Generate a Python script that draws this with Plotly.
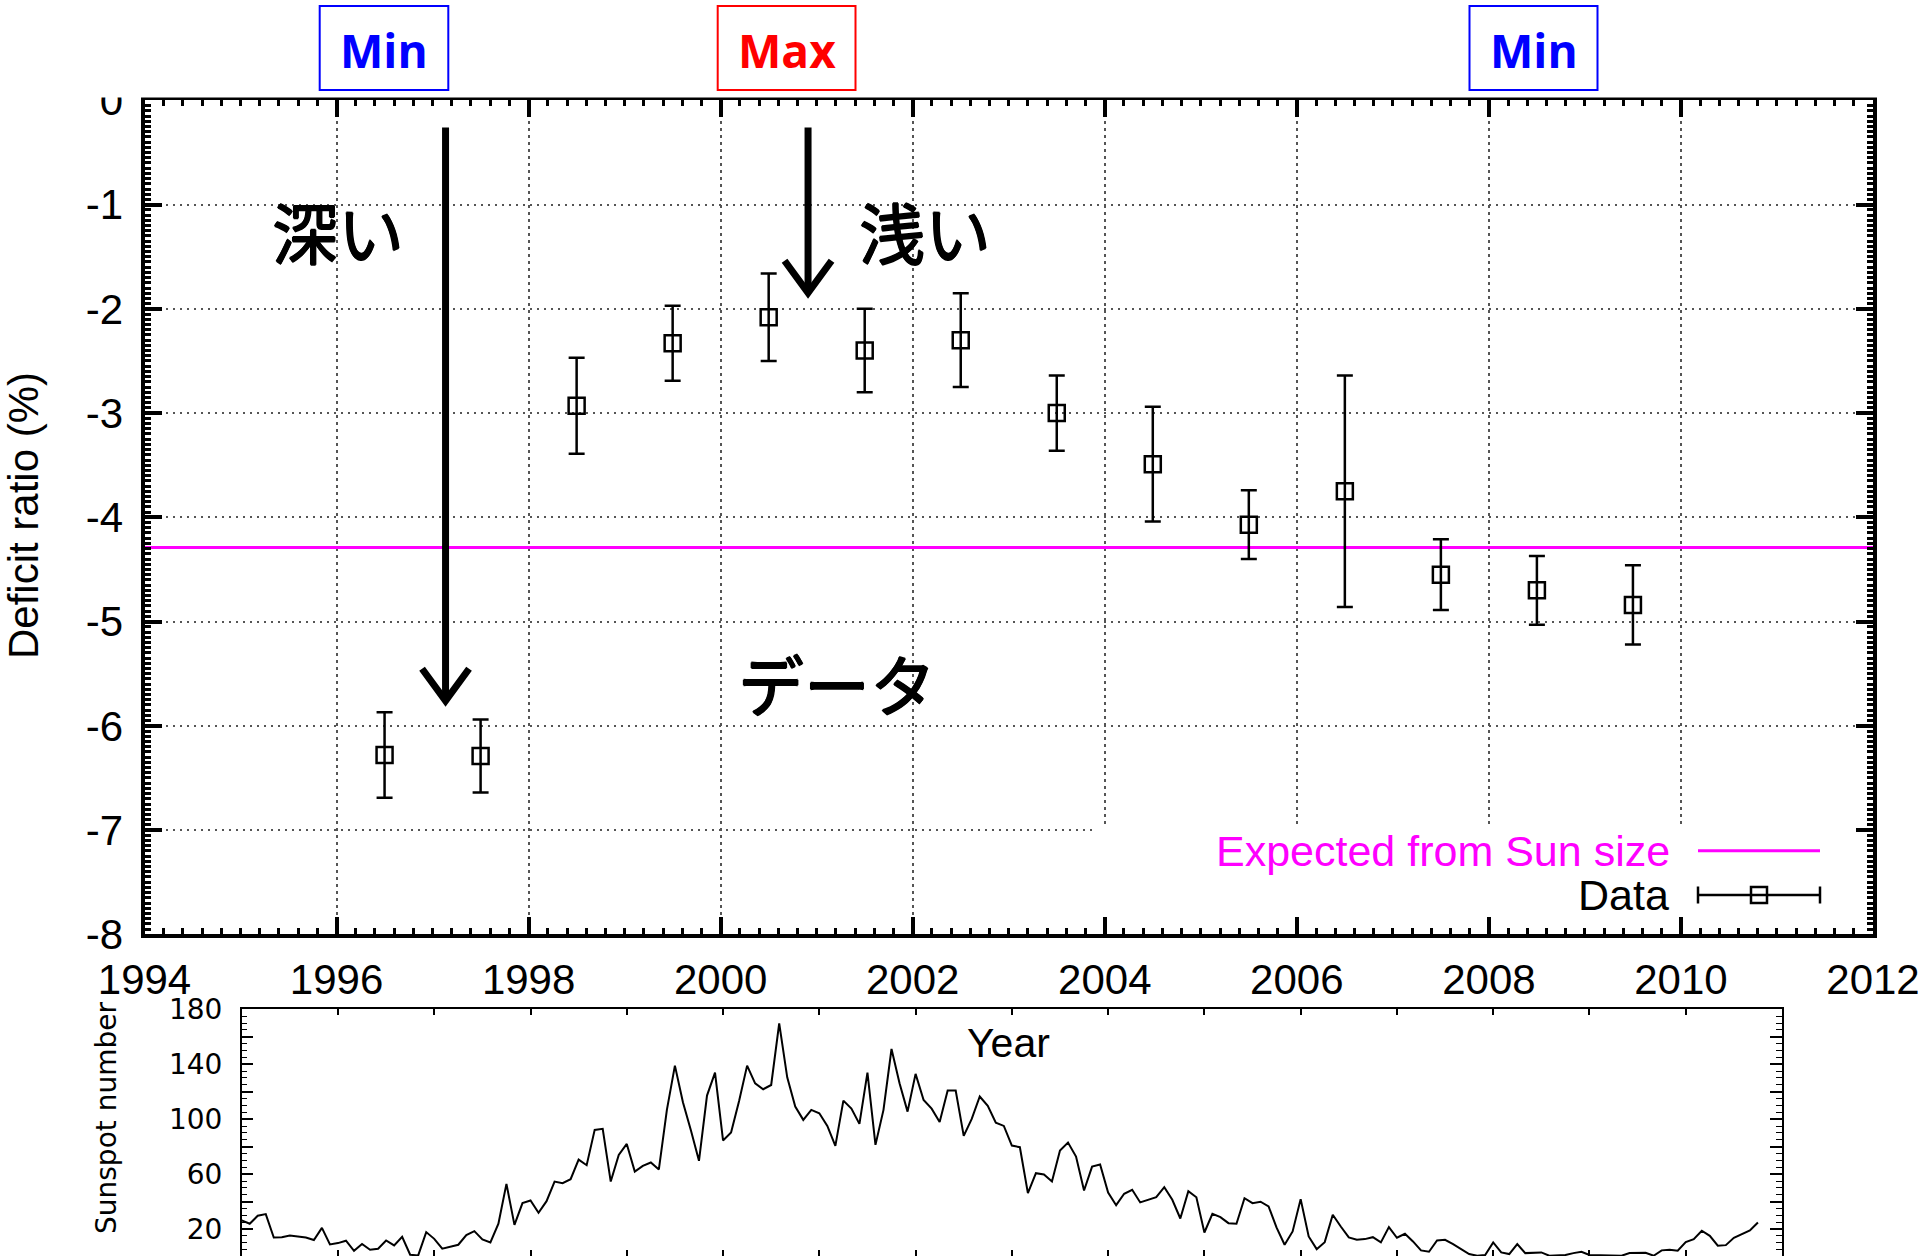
import plotly.graph_objects as go

W, H = 1920, 1256

# ---------------- data ----------------
years = [1996.5, 1997.5, 1998.5, 1999.5, 2000.5, 2001.5, 2002.5,
         2003.5, 2004.5, 2005.5, 2006.5, 2007.5, 2008.5, 2009.5]
deficit = [-6.28, -6.29, -2.93, -2.33, -2.08, -2.40, -2.30,
           -3.00, -3.49, -4.07, -3.75, -4.55, -4.70, -4.84]
deficit_err = [0.41, 0.35, 0.46, 0.36, 0.42, 0.40, 0.45,
               0.36, 0.55, 0.33, 1.11, 0.34, 0.33, 0.38]
expected_from_sun_size = -4.29
x_range = [1994, 2012]

# monthly sunspot number, starting at 1995.0
sunspot = [26.3, 23.9, 29.7, 30.9, 13.9, 14.1, 15.4, 14.4, 13.9, 12.0, 20.9, 8.8,
           9.8, 11.5, 4.2, 9.1, 4.9, 5.7, 11.7, 8.1, 14.4, 1.3, 0.8, 17.8,
           12.9, 5.7, 7.4, 8.6, 15.6, 18.5, 12.5, 10.3, 23.9, 52.9, 23.1, 38.9,
           40.8, 31.9, 40.3, 54.6, 53.4, 56.3, 70.6, 66.5, 92.2, 93.0, 54.6, 74.0,
           82.0, 61.9, 66.0, 68.5, 63.4, 106.8, 139.0, 112.3, 91.7, 69.7, 117.2, 133.9,
           84.5, 90.3, 113.3, 139.0, 126.1, 121.8, 124.9, 169.8, 130.5, 109.2, 99.5, 106.8,
           104.3, 95.1, 80.6, 113.5, 107.7, 96.6, 133.9, 81.3, 106.8, 151.1, 126.1, 105.5,
           133.0, 114.0, 107.7, 98.0, 120.8, 120.8, 87.9, 100.2, 116.5, 109.7, 97.5, 95.1,
           80.8, 79.6, 46.2, 60.7, 59.7, 54.6, 77.2, 83.0, 72.8, 48.1, 65.5, 67.0,
           46.6, 37.4, 45.7, 48.6, 39.4, 41.3, 43.2, 50.5, 41.3, 27.7, 47.6, 43.2,
           17.5, 31.1, 28.7, 24.3, 23.9, 42.5, 38.9, 39.9, 36.5, 21.0, 8.6, 18.3,
           41.8, 14.6, 5.4, 10.5, 30.4, 21.9, 13.9, 12.2, 12.7, 14.1, 10.3, 21.4,
           13.7, 16.6, 11.0, 4.5, 3.5, 11.7, 12.2, 9.1, 5.4, 1.8, 0.6, 1.1,
           10.3, 3.0, 1.8, 9.1, 2.5, 2.8, 3.0, 0.6, 0.6, 1.1, 2.5, 3.5,
           1.1, 1.1, 0.8, 0.6, 0.6, 2.5, 2.5, 2.8, 0.6, 4.5, 5.0, 4.2,
           10.5, 12.7, 18.8, 15.1, 7.9, 8.3, 13.7, 16.1, 19.0, 24.8]
sun_start_year = 1995
sun_x = [sun_start_year + k / 12 for k in range(len(sunspot))]

top_xticks = list(range(1994, 2013, 2))
top_yticks = list(range(-8, 1))
top_yticktext = ["-8", "-7", "-6", "-5", "-4", "-3", "-2", "-1", "0"]
bot_xticks = list(range(1995, 2012))
bot_yticks = [20, 40, 60, 80, 100, 120, 140, 160, 180]
bot_yticktext = ["20", "", "60", "", "100", "", "140", "", "180"]


def px(x):
    return x / W


def py(y):
    return 1 - y / H


FONT = "Liberation Sans, Arial, Helvetica, sans-serif"
JP = "Noto Sans CJK JP, sans-serif"
JP_SHADOW = ("0.8px 0 0 black, -0.8px 0 0 black, 0 0.8px 0 black, "
             "0 -0.8px 0 black")

fig = go.Figure()

fig.add_trace(go.Scatter(
    x=x_range, y=[expected_from_sun_size, expected_from_sun_size],
    mode="lines", line=dict(color="#FF00FF", width=3),
    showlegend=False, hoverinfo="skip", xaxis="x", yaxis="y"))

fig.add_trace(go.Scatter(
    x=years, y=deficit, mode="markers",
    marker=dict(symbol="square-open", size=16, color="black",
                line=dict(width=2.5, color="black")),
    error_y=dict(type="data", array=deficit_err, visible=True,
                 color="black", thickness=2.5, width=8),
    showlegend=False, xaxis="x", yaxis="y"))

fig.add_trace(go.Scatter(
    x=sun_x, y=sunspot, mode="lines", line=dict(color="black", width=2),
    showlegend=False, xaxis="x2", yaxis="y2"))

grid_dash = "2.5px,4.5px"

fig.update_layout(
    width=W, height=H, autosize=False,
    margin=dict(l=0, r=0, t=0, b=0, autoexpand=False),
    paper_bgcolor="white", plot_bgcolor="white",
    xaxis=dict(
        domain=[px(144.5), px(1873)], anchor="y", range=x_range, automargin=False,
        tickmode="array", tickvals=top_xticks, ticklabelstandoff=5,
        ticks="inside", ticklen=17, tickwidth=4, tickcolor="black",
        minor=dict(ticks="inside", ticklen=6, tickwidth=2.5, tickcolor="black",
                   tick0=1994, dtick=0.2, showgrid=False),
        showline=True, linewidth=4, linecolor="black", mirror="allticks",
        showgrid=True, gridcolor="#555555", gridwidth=1.5, griddash=grid_dash,
        zeroline=False, tickfont=dict(family=FONT, size=42, color="black"),
    ),
    yaxis=dict(
        domain=[py(934.3), py(100.4)], anchor="x", range=[-8, 0], automargin=False,
        tickmode="array", tickvals=top_yticks, ticktext=top_yticktext,
        ticklabelstandoff=9,
        ticks="inside", ticklen=17, tickwidth=4, tickcolor="black",
        minor=dict(ticks="inside", ticklen=6, tickwidth=2.5, tickcolor="black",
                   tick0=0, dtick=0.05, showgrid=False),
        showline=True, linewidth=4, linecolor="black", mirror="allticks",
        showgrid=True, gridcolor="#555555", gridwidth=1.5, griddash=grid_dash,
        zeroline=False, tickfont=dict(family=FONT, size=42, color="black"),
    ),
    xaxis2=dict(
        domain=[px(241.7), px(1782)], anchor="y2", range=[1995, 2011], automargin=False,
        tickmode="array", tickvals=bot_xticks, showticklabels=False,
        ticks="inside", ticklen=6, tickwidth=1.5, tickcolor="black",
        showline=True, linewidth=1.5, linecolor="black", mirror="allticks",
        showgrid=False, zeroline=False,
    ),
    yaxis2=dict(
        domain=[0, py(1009.3)], anchor="x2", range=[0.4, 180], automargin=False,
        tickmode="array", tickvals=bot_yticks, ticktext=bot_yticktext,
        ticklabelstandoff=12,
        ticks="inside", ticklen=12, tickwidth=1.5, tickcolor="black",
        minor=dict(ticks="inside", ticklen=6, tickwidth=1.2, tickcolor="black",
                   tick0=0, dtick=5, showgrid=False),
        showline=True, linewidth=1.5, linecolor="black", mirror="allticks",
        showgrid=False, zeroline=False,
        tickfont=dict(family="DejaVu Sans, sans-serif", size=28, color="black"),
    ),
)

shapes = []
# clear area behind the key (gnuplot key box)
shapes.append(dict(type="rect", xref="x", yref="y", x0=2003.9, x1=2012,
                   y0=-8, y1=-6.97, fillcolor="white", line=dict(width=0),
                   layer="between"))
# arrows
arrow_w = 7
arrows = [(1997.135, -0.26, -5.76), (2000.91, -0.26, -1.845)]
dxh, dyh = 23.5 / 96.06, 32 / 104.2
for ax_, y0_, y1_ in arrows:
    shapes.append(dict(type="line", xref="x", yref="y", x0=ax_, x1=ax_,
                       y0=y0_, y1=y1_ + 0.03, line=dict(color="black", width=arrow_w),
                       layer="above"))
    shapes.append(dict(type="path", xref="x", yref="y",
                       path=f"M {ax_ - dxh},{y1_ + dyh} L {ax_},{y1_} L {ax_ + dxh},{y1_ + dyh}",
                       line=dict(color="black", width=arrow_w), layer="above"))
# white band at very top (hides top of the "0" label)
shapes.append(dict(type="rect", xref="paper", yref="paper", x0=0, x1=1,
                   y0=py(97.5), y1=1, fillcolor="white", line=dict(width=0),
                   layer="above"))
# Min/Max boxes
for x0b, x1b, col in [(319.7, 448.3, "#0000FF"), (717.7, 855.5, "#FF0000"),
                      (1469.5, 1597.5, "#0000FF")]:
    shapes.append(dict(type="rect", xref="paper", yref="paper",
                       x0=px(x0b), x1=px(x1b), y0=py(90), y1=py(6),
                       line=dict(color=col, width=2), fillcolor="rgba(0,0,0,0)",
                       layer="above"))
# legend keys
shapes.append(dict(type="line", xref="paper", yref="paper", x0=px(1698), x1=px(1820),
                   y0=py(850.7), y1=py(850.7), line=dict(color="#FF00FF", width=3),
                   layer="above"))
shapes.append(dict(type="line", xref="paper", yref="paper", x0=px(1698), x1=px(1820),
                   y0=py(895), y1=py(895), line=dict(color="black", width=2.5),
                   layer="above"))
for xc in (1698, 1820):
    shapes.append(dict(type="line", xref="paper", yref="paper", x0=px(xc), x1=px(xc),
                       y0=py(886.5), y1=py(903.5), line=dict(color="black", width=2.5),
                       layer="above"))
shapes.append(dict(type="rect", xref="paper", yref="paper", x0=px(1751), x1=px(1767),
                   y0=py(903), y1=py(887), line=dict(color="black", width=2.5),
                   fillcolor="rgba(0,0,0,0)", layer="above"))
fig.update_layout(shapes=shapes)

ann = []
ann.append(dict(text="Deficit ratio (%)", xref="paper", yref="paper",
                x=px(23), y=py(516), textangle=-90, showarrow=False,
                xanchor="center", yanchor="middle",
                font=dict(family=FONT, size=42, color="black")))
ann.append(dict(text="Year", xref="paper", yref="paper", x=px(1008), y=py(1043),
                showarrow=False, xanchor="center", yanchor="middle",
                font=dict(family=FONT, size=41, color="black")))
ann.append(dict(text="Sunspot number", xref="paper", yref="paper", x=px(106), y=py(1118),
                textangle=-90, showarrow=False, xanchor="center", yanchor="middle",
                font=dict(family="DejaVu Sans, sans-serif", size=28, color="black")))
for txt, xx, yy in [("深い", 1996.01, -1.24), ("浅い", 2002.13, -1.24),
                    ("データ", 2001.21, -5.58)]:
    ann.append(dict(text=txt, xref="x", yref="y", x=xx, y=yy, showarrow=False,
                    xanchor="center", yanchor="middle",
                    font=dict(family=JP, size=66, color="black", shadow=JP_SHADOW)))
for txt, xc, col in [("Min", 384, "#0000FF"), ("Max", 786.6, "#FF0000"),
                     ("Min", 1533.5, "#0000FF")]:
    ann.append(dict(text=txt, xref="paper", yref="paper", x=px(xc), y=py(50),
                    showarrow=False, xanchor="center", yanchor="middle",
                    font=dict(family="Open Sans, sans-serif", size=46, color=col,
                              weight="bold")))
ann.append(dict(text="Expected from Sun size", xref="paper", yref="paper",
                x=px(1672), y=py(851), showarrow=False, xanchor="right",
                yanchor="middle", font=dict(family=FONT, size=43, color="#FF00FF")))
ann.append(dict(text="Data", xref="paper", yref="paper",
                x=px(1671), y=py(895), showarrow=False, xanchor="right",
                yanchor="middle", font=dict(family=FONT, size=43, color="black")))
fig.update_layout(annotations=ann)

fig.write_html("out.html", config={"displayModeBar": False},
               post_script="document.body.style.margin='0';"
                           "document.body.style.overflow='hidden';")
